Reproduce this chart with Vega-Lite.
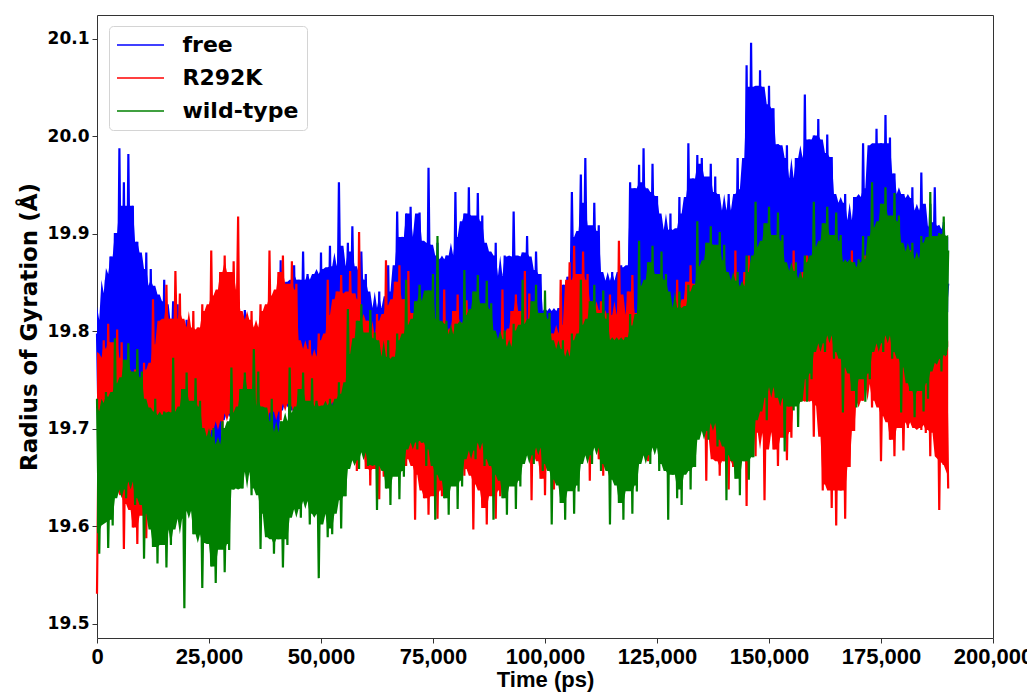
{
  "$schema": "https://vega.github.io/schema/vega-lite/v6.json",
  "width": 896,
  "height": 623,
  "autosize": {"type": "none"},
  "padding": {"left": 97, "top": 15, "right": 34, "bottom": 55},
  "background": "white",
  "config": {
    "view": {"stroke": "#333333", "strokeWidth": 1},
    "axis": {"grid": false, "domain": false, "tickColor": "#333333", "tickSize": 5, "labelColor": "#000000", "titleColor": "#000000"},
    "axisX": {"labelFont": "Liberation Sans", "labelFontSize": 22, "labelFontWeight": "bold", "labelPadding": 3, "labelFlush": false, "labelOverlap": false, "titleFont": "Liberation Sans", "titleFontSize": 22, "titleFontWeight": "bold", "titlePadding": 2},
    "axisY": {"labelFont": "DejaVu Sans", "labelFontSize": 17, "labelFontWeight": "bold", "labelPadding": 3, "titleFont": "DejaVu Sans", "titleFontSize": 23, "titleFontWeight": "bold", "titlePadding": 6}
  },
  "data": {"values": [
{"t":0,"f":19.798,"r":19.531,"w":19.731},{"t":500,"f":19.668,"r":19.767,"w":19.572},{"t":1000,"f":19.766,"r":19.673,"w":19.714},{"t":1500,"f":19.691,"r":19.791,"w":19.607},{"t":2000,"f":19.853,"r":19.639,"w":19.738},
{"t":2500,"f":19.728,"r":19.808,"w":19.578},{"t":3000,"f":19.877,"r":19.656,"w":19.706},{"t":3500,"f":19.753,"r":19.773,"w":19.601},{"t":4000,"f":19.901,"r":19.632,"w":19.793},{"t":4500,"f":19.719,"r":19.802,"w":19.638},
{"t":5000,"f":19.988,"r":19.664,"w":19.747},{"t":5500,"f":19.746,"r":19.789,"w":19.663},{"t":6000,"f":19.953,"r":19.577,"w":19.771},{"t":6500,"f":19.722,"r":19.752,"w":19.629},{"t":7000,"f":19.982,"r":19.623,"w":19.788},
{"t":7500,"f":19.754,"r":19.727,"w":19.646},{"t":8000,"f":19.929,"r":19.599,"w":19.753},{"t":8500,"f":19.667,"r":19.761,"w":19.622},{"t":9000,"f":19.892,"r":19.582,"w":19.782},{"t":9500,"f":19.713,"r":19.744,"w":19.654},
{"t":10000,"f":19.847,"r":19.617,"w":19.759},{"t":10500,"f":19.679,"r":19.768,"w":19.567},{"t":11000,"f":19.881,"r":19.588,"w":19.722},{"t":11500,"f":19.662,"r":19.736,"w":19.613},{"t":12000,"f":19.864,"r":19.611,"w":19.697},
{"t":12500,"f":19.697,"r":19.833,"w":19.579},{"t":13000,"f":19.838,"r":19.658,"w":19.731},{"t":13500,"f":19.668,"r":19.787,"w":19.562},{"t":14000,"f":19.806,"r":19.683,"w":19.714},{"t":14500,"f":19.691,"r":19.811,"w":19.597},
{"t":15000,"f":19.853,"r":19.689,"w":19.718},{"t":15500,"f":19.728,"r":19.848,"w":19.558},{"t":16000,"f":19.807,"r":19.706,"w":19.686},{"t":16500,"f":19.753,"r":19.813,"w":19.581},{"t":17000,"f":19.831,"r":19.682,"w":19.773},
{"t":17500,"f":19.709,"r":19.862,"w":19.608},{"t":18000,"f":19.828,"r":19.744,"w":19.717},{"t":18500,"f":19.726,"r":19.839,"w":19.633},{"t":19000,"f":19.793,"r":19.657,"w":19.741},{"t":19500,"f":19.702,"r":19.802,"w":19.516},
{"t":20000,"f":19.812,"r":19.703,"w":19.758},{"t":20500,"f":19.734,"r":19.787,"w":19.616},{"t":21000,"f":19.789,"r":19.679,"w":19.723},{"t":21500,"f":19.647,"r":19.821,"w":19.592},{"t":22000,"f":19.752,"r":19.662,"w":19.752},
{"t":22500,"f":19.693,"r":19.804,"w":19.624},{"t":23000,"f":19.717,"r":19.677,"w":19.729},{"t":23500,"f":19.669,"r":19.828,"w":19.537},{"t":24000,"f":19.751,"r":19.648,"w":19.692},{"t":24500,"f":19.652,"r":19.796,"w":19.583},
{"t":25000,"f":19.734,"r":19.671,"w":19.667},{"t":25500,"f":19.687,"r":19.883,"w":19.559},{"t":26000,"f":19.758,"r":19.708,"w":19.701},{"t":26500,"f":19.658,"r":19.837,"w":19.542},{"t":27000,"f":19.726,"r":19.733,"w":19.684},
{"t":27500,"f":19.681,"r":19.861,"w":19.582},{"t":28000,"f":19.813,"r":19.699,"w":19.708},{"t":28500,"f":19.718,"r":19.878,"w":19.553},{"t":29000,"f":19.767,"r":19.716,"w":19.676},{"t":29500,"f":19.743,"r":19.843,"w":19.576},
{"t":30000,"f":19.801,"r":19.692,"w":19.763},{"t":30500,"f":19.709,"r":19.872,"w":19.638},{"t":31000,"f":19.818,"r":19.744,"w":19.717},{"t":31500,"f":19.726,"r":19.918,"w":19.663},{"t":32000,"f":19.783,"r":19.657,"w":19.741},
{"t":32500,"f":19.712,"r":19.812,"w":19.639},{"t":33000,"f":19.822,"r":19.713,"w":19.758},{"t":33500,"f":19.744,"r":19.787,"w":19.656},{"t":34000,"f":19.799,"r":19.689,"w":19.723},{"t":34500,"f":19.657,"r":19.821,"w":19.632},
{"t":35000,"f":19.792,"r":19.682,"w":19.782},{"t":35500,"f":19.703,"r":19.804,"w":19.664},{"t":36000,"f":19.767,"r":19.717,"w":19.759},{"t":36500,"f":19.679,"r":19.828,"w":19.577},{"t":37000,"f":19.801,"r":19.688,"w":19.722},
{"t":37500,"f":19.662,"r":19.796,"w":19.613},{"t":38000,"f":19.794,"r":19.681,"w":19.697},{"t":38500,"f":19.697,"r":19.883,"w":19.589},{"t":39000,"f":19.818,"r":19.718,"w":19.731},{"t":39500,"f":19.668,"r":19.837,"w":19.572},
{"t":40000,"f":19.786,"r":19.743,"w":19.684},{"t":40500,"f":19.691,"r":19.861,"w":19.587},{"t":41000,"f":19.873,"r":19.709,"w":19.708},{"t":41500,"f":19.728,"r":19.878,"w":19.558},{"t":42000,"f":19.827,"r":19.726,"w":19.676},
{"t":42500,"f":19.753,"r":19.843,"w":19.581},{"t":43000,"f":19.851,"r":19.702,"w":19.763},{"t":43500,"f":19.719,"r":19.872,"w":19.618},{"t":44000,"f":19.868,"r":19.734,"w":19.717},{"t":44500,"f":19.736,"r":19.849,"w":19.643},
{"t":45000,"f":19.853,"r":19.647,"w":19.741},{"t":45500,"f":19.722,"r":19.782,"w":19.609},{"t":46000,"f":19.882,"r":19.723,"w":19.758},{"t":46500,"f":19.754,"r":19.757,"w":19.626},{"t":47000,"f":19.859,"r":19.699,"w":19.723},
{"t":47500,"f":19.677,"r":19.791,"w":19.602},{"t":48000,"f":19.842,"r":19.682,"w":19.752},{"t":48500,"f":19.723,"r":19.774,"w":19.634},{"t":49000,"f":19.817,"r":19.717,"w":19.729},{"t":49500,"f":19.699,"r":19.798,"w":19.547},
{"t":50000,"f":19.881,"r":19.668,"w":19.722},{"t":50500,"f":19.692,"r":19.766,"w":19.613},{"t":51000,"f":19.864,"r":19.691,"w":19.697},{"t":51500,"f":19.727,"r":19.853,"w":19.589},{"t":52000,"f":19.888,"r":19.728,"w":19.731},
{"t":52500,"f":19.708,"r":19.817,"w":19.592},{"t":53000,"f":19.866,"r":19.753,"w":19.724},{"t":53500,"f":19.731,"r":19.841,"w":19.627},{"t":54000,"f":19.953,"r":19.719,"w":19.748},{"t":54500,"f":19.768,"r":19.858,"w":19.598},
{"t":55000,"f":19.867,"r":19.736,"w":19.736},{"t":55500,"f":19.793,"r":19.833,"w":19.631},{"t":56000,"f":19.891,"r":19.712,"w":19.823},{"t":56500,"f":19.759,"r":19.862,"w":19.668},{"t":57000,"f":19.908,"r":19.744,"w":19.777},
{"t":57500,"f":19.776,"r":19.839,"w":19.693},{"t":58000,"f":19.853,"r":19.657,"w":19.811},{"t":58500,"f":19.752,"r":19.902,"w":19.659},{"t":59000,"f":19.882,"r":19.703,"w":19.828},{"t":59500,"f":19.784,"r":19.777,"w":19.676},
{"t":60000,"f":19.859,"r":19.659,"w":19.793},{"t":60500,"f":19.697,"r":19.811,"w":19.662},{"t":61000,"f":19.822,"r":19.642,"w":19.822},{"t":61500,"f":19.743,"r":19.794,"w":19.694},{"t":62000,"f":19.797,"r":19.677,"w":19.799},
{"t":62500,"f":19.719,"r":19.818,"w":19.617},{"t":63000,"f":19.841,"r":19.628,"w":19.772},{"t":63500,"f":19.702,"r":19.786,"w":19.663},{"t":64000,"f":19.824,"r":19.651,"w":19.747},{"t":64500,"f":19.737,"r":19.873,"w":19.639},
{"t":65000,"f":19.868,"r":19.678,"w":19.791},{"t":65500,"f":19.718,"r":19.827,"w":19.622},{"t":66000,"f":19.836,"r":19.703,"w":19.774},{"t":66500,"f":19.741,"r":19.851,"w":19.657},{"t":67000,"f":19.923,"r":19.669,"w":19.798},
{"t":67500,"f":19.778,"r":19.868,"w":19.628},{"t":68000,"f":19.897,"r":19.686,"w":19.766},{"t":68500,"f":19.803,"r":19.833,"w":19.651},{"t":69000,"f":19.921,"r":19.662,"w":19.853},{"t":69500,"f":19.769,"r":19.862,"w":19.688},
{"t":70000,"f":19.928,"r":19.694,"w":19.807},{"t":70500,"f":19.786,"r":19.819,"w":19.713},{"t":71000,"f":19.893,"r":19.607,"w":19.831},{"t":71500,"f":19.762,"r":19.782,"w":19.679},{"t":72000,"f":19.922,"r":19.653,"w":19.848},
{"t":72500,"f":19.794,"r":19.747,"w":19.686},{"t":73000,"f":19.889,"r":19.629,"w":19.813},{"t":73500,"f":19.707,"r":19.781,"w":19.662},{"t":74000,"f":19.968,"r":19.612,"w":19.842},{"t":74500,"f":19.753,"r":19.764,"w":19.694},
{"t":75000,"f":19.857,"r":19.637,"w":19.859},{"t":75500,"f":19.729,"r":19.788,"w":19.607},{"t":76000,"f":19.891,"r":19.608,"w":19.898},{"t":76500,"f":19.712,"r":19.756,"w":19.653},{"t":77000,"f":19.874,"r":19.631,"w":19.797},
{"t":77500,"f":19.747,"r":19.843,"w":19.629},{"t":78000,"f":19.878,"r":19.668,"w":19.811},{"t":78500,"f":19.718,"r":19.797,"w":19.612},{"t":79000,"f":19.846,"r":19.693,"w":19.794},{"t":79500,"f":19.741,"r":19.821,"w":19.647},
{"t":80000,"f":19.943,"r":19.659,"w":19.808},{"t":80500,"f":19.778,"r":19.838,"w":19.618},{"t":81000,"f":19.897,"r":19.676,"w":19.776},{"t":81500,"f":19.803,"r":19.803,"w":19.641},{"t":82000,"f":19.921,"r":19.652,"w":19.863},
{"t":82500,"f":19.769,"r":19.832,"w":19.678},{"t":83000,"f":19.948,"r":19.684,"w":19.817},{"t":83500,"f":19.786,"r":19.809,"w":19.703},{"t":84000,"f":19.913,"r":19.597,"w":19.841},{"t":84500,"f":19.762,"r":19.772,"w":19.669},
{"t":85000,"f":19.942,"r":19.643,"w":19.858},{"t":85500,"f":19.794,"r":19.747,"w":19.686},{"t":86000,"f":19.919,"r":19.619,"w":19.823},{"t":86500,"f":19.707,"r":19.781,"w":19.662},{"t":87000,"f":19.882,"r":19.602,"w":19.852},
{"t":87500,"f":19.753,"r":19.764,"w":19.694},{"t":88000,"f":19.857,"r":19.637,"w":19.829},{"t":88500,"f":19.729,"r":19.788,"w":19.607},{"t":89000,"f":19.891,"r":19.608,"w":19.792},{"t":89500,"f":19.712,"r":19.756,"w":19.653},
{"t":90000,"f":19.854,"r":19.631,"w":19.767},{"t":90500,"f":19.747,"r":19.843,"w":19.629},{"t":91000,"f":19.878,"r":19.668,"w":19.801},{"t":91500,"f":19.718,"r":19.797,"w":19.612},{"t":92000,"f":19.846,"r":19.693,"w":19.784},
{"t":92500,"f":19.741,"r":19.821,"w":19.647},{"t":93000,"f":19.923,"r":19.669,"w":19.808},{"t":93500,"f":19.778,"r":19.838,"w":19.618},{"t":94000,"f":19.877,"r":19.686,"w":19.776},{"t":94500,"f":19.803,"r":19.803,"w":19.641},
{"t":95000,"f":19.881,"r":19.682,"w":19.853},{"t":95500,"f":19.769,"r":19.862,"w":19.673},{"t":96000,"f":19.898,"r":19.714,"w":19.807},{"t":96500,"f":19.786,"r":19.839,"w":19.698},{"t":97000,"f":19.863,"r":19.627,"w":19.831},
{"t":97500,"f":19.762,"r":19.802,"w":19.664},{"t":98000,"f":19.882,"r":19.673,"w":19.848},{"t":98500,"f":19.794,"r":19.777,"w":19.681},{"t":99000,"f":19.859,"r":19.649,"w":19.813},{"t":99500,"f":19.707,"r":19.811,"w":19.657},
{"t":100000,"f":19.812,"r":19.632,"w":19.842},{"t":100500,"f":19.763,"r":19.774,"w":19.689},{"t":101000,"f":19.787,"r":19.667,"w":19.819},{"t":101500,"f":19.739,"r":19.798,"w":19.602},{"t":102000,"f":19.821,"r":19.638,"w":19.782},
{"t":102500,"f":19.722,"r":19.766,"w":19.648},{"t":103000,"f":19.824,"r":19.671,"w":19.757},{"t":103500,"f":19.757,"r":19.853,"w":19.624},{"t":104000,"f":19.848,"r":19.708,"w":19.791},{"t":104500,"f":19.728,"r":19.807,"w":19.607},
{"t":105000,"f":19.856,"r":19.743,"w":19.774},{"t":105500,"f":19.751,"r":19.871,"w":19.642},{"t":106000,"f":19.943,"r":19.709,"w":19.798},{"t":106500,"f":19.788,"r":19.888,"w":19.613},{"t":107000,"f":19.897,"r":19.726,"w":19.766},
{"t":107500,"f":19.813,"r":19.853,"w":19.636},{"t":108000,"f":19.961,"r":19.702,"w":19.853},{"t":108500,"f":19.779,"r":19.882,"w":19.673},{"t":109000,"f":19.978,"r":19.734,"w":19.807},{"t":109500,"f":19.796,"r":19.859,"w":19.698},
{"t":110000,"f":19.903,"r":19.647,"w":19.831},{"t":110500,"f":19.772,"r":19.822,"w":19.664},{"t":111000,"f":19.932,"r":19.693,"w":19.848},{"t":111500,"f":19.804,"r":19.797,"w":19.681},{"t":112000,"f":19.909,"r":19.669,"w":19.813},
{"t":112500,"f":19.717,"r":19.831,"w":19.657},{"t":113000,"f":19.852,"r":19.652,"w":19.842},{"t":113500,"f":19.763,"r":19.814,"w":19.689},{"t":114000,"f":19.827,"r":19.687,"w":19.819},{"t":114500,"f":19.739,"r":19.838,"w":19.602},
{"t":115000,"f":19.861,"r":19.658,"w":19.782},{"t":115500,"f":19.722,"r":19.806,"w":19.648},{"t":116000,"f":19.844,"r":19.681,"w":19.757},{"t":116500,"f":19.757,"r":19.893,"w":19.624},{"t":117000,"f":19.868,"r":19.718,"w":19.791},
{"t":117500,"f":19.728,"r":19.817,"w":19.607},{"t":118000,"f":19.866,"r":19.753,"w":19.794},{"t":118500,"f":19.751,"r":19.841,"w":19.642},{"t":119000,"f":19.953,"r":19.719,"w":19.818},{"t":119500,"f":19.788,"r":19.858,"w":19.613},
{"t":120000,"f":19.947,"r":19.746,"w":19.806},{"t":120500,"f":19.813,"r":19.813,"w":19.636},{"t":121000,"f":19.971,"r":19.722,"w":19.893},{"t":121500,"f":19.779,"r":19.842,"w":19.673},{"t":122000,"f":19.988,"r":19.754,"w":19.847},
{"t":122500,"f":19.806,"r":19.819,"w":19.698},{"t":123000,"f":19.943,"r":19.667,"w":19.871},{"t":123500,"f":19.782,"r":19.782,"w":19.664},{"t":124000,"f":19.972,"r":19.713,"w":19.888},{"t":124500,"f":19.814,"r":19.757,"w":19.681},
{"t":125000,"f":19.939,"r":19.689,"w":19.853},{"t":125500,"f":19.727,"r":19.791,"w":19.657},{"t":126000,"f":19.902,"r":19.672,"w":19.882},{"t":126500,"f":19.773,"r":19.774,"w":19.689},{"t":127000,"f":19.877,"r":19.707,"w":19.859},
{"t":127500,"f":19.749,"r":19.798,"w":19.607},{"t":128000,"f":19.921,"r":19.678,"w":19.822},{"t":128500,"f":19.732,"r":19.766,"w":19.653},{"t":129000,"f":19.904,"r":19.701,"w":19.797},{"t":129500,"f":19.767,"r":19.853,"w":19.629},
{"t":130000,"f":19.938,"r":19.738,"w":19.841},{"t":130500,"f":19.738,"r":19.827,"w":19.622},{"t":131000,"f":19.906,"r":19.763,"w":19.824},{"t":131500,"f":19.761,"r":19.851,"w":19.657},{"t":132000,"f":19.993,"r":19.729,"w":19.848},
{"t":132500,"f":19.808,"r":19.868,"w":19.638},{"t":133000,"f":19.957,"r":19.736,"w":19.826},{"t":133500,"f":19.833,"r":19.833,"w":19.661},{"t":134000,"f":19.981,"r":19.712,"w":19.913},{"t":134500,"f":19.799,"r":19.862,"w":19.698},
{"t":135000,"f":19.978,"r":19.734,"w":19.867},{"t":135500,"f":19.816,"r":19.849,"w":19.723},{"t":136000,"f":19.943,"r":19.647,"w":19.891},{"t":136500,"f":19.792,"r":19.812,"w":19.689},{"t":137000,"f":19.972,"r":19.693,"w":19.908},
{"t":137500,"f":19.824,"r":19.787,"w":19.706},{"t":138000,"f":19.959,"r":19.669,"w":19.873},{"t":138500,"f":19.737,"r":19.821,"w":19.682},{"t":139000,"f":19.922,"r":19.652,"w":19.902},{"t":139500,"f":19.783,"r":19.804,"w":19.714},
{"t":140000,"f":19.907,"r":19.667,"w":19.889},{"t":140500,"f":19.769,"r":19.828,"w":19.627},{"t":141000,"f":19.941,"r":19.638,"w":19.852},{"t":141500,"f":19.752,"r":19.796,"w":19.673},{"t":142000,"f":19.924,"r":19.661,"w":19.827},
{"t":142500,"f":19.787,"r":19.883,"w":19.649},{"t":143000,"f":19.978,"r":19.688,"w":19.861},{"t":143500,"f":19.758,"r":19.837,"w":19.632},{"t":144000,"f":19.946,"r":19.713,"w":19.844},{"t":144500,"f":19.781,"r":19.861,"w":19.667},
{"t":145000,"f":20.073,"r":19.621,"w":19.878},{"t":145500,"f":19.818,"r":19.878,"w":19.648},{"t":146000,"f":20.096,"r":19.696,"w":19.846},{"t":146500,"f":19.843,"r":19.843,"w":19.671},{"t":147000,"f":20.051,"r":19.672,"w":19.933},
{"t":147500,"f":19.809,"r":19.872,"w":19.718},{"t":148000,"f":20.068,"r":19.714,"w":19.887},{"t":148500,"f":19.826,"r":19.849,"w":19.743},{"t":149000,"f":20.033,"r":19.627,"w":19.911},{"t":149500,"f":19.802,"r":19.812,"w":19.709},
{"t":150000,"f":20.052,"r":19.703,"w":19.928},{"t":150500,"f":19.844,"r":19.787,"w":19.756},{"t":151000,"f":20.029,"r":19.679,"w":19.893},{"t":151500,"f":19.757,"r":19.821,"w":19.732},{"t":152000,"f":19.992,"r":19.662,"w":19.922},
{"t":152500,"f":19.803,"r":19.804,"w":19.764},{"t":153000,"f":19.957,"r":19.697,"w":19.899},{"t":153500,"f":19.779,"r":19.828,"w":19.677},{"t":154000,"f":19.991,"r":19.668,"w":19.862},{"t":154500,"f":19.762,"r":19.796,"w":19.723},
{"t":155000,"f":19.954,"r":19.691,"w":19.837},{"t":155500,"f":19.797,"r":19.883,"w":19.719},{"t":156000,"f":19.978,"r":19.728,"w":19.871},{"t":156500,"f":19.768,"r":19.837,"w":19.702},{"t":157000,"f":19.946,"r":19.753,"w":19.854},
{"t":157500,"f":19.791,"r":19.861,"w":19.757},{"t":158000,"f":20.043,"r":19.729,"w":19.878},{"t":158500,"f":19.828,"r":19.878,"w":19.728},{"t":159000,"f":19.997,"r":19.746,"w":19.846},{"t":159500,"f":19.853,"r":19.843,"w":19.751},
{"t":160000,"f":20.001,"r":19.692,"w":19.933},{"t":160500,"f":19.819,"r":19.872,"w":19.788},{"t":161000,"f":20.018,"r":19.724,"w":19.887},{"t":161500,"f":19.836,"r":19.849,"w":19.813},{"t":162000,"f":19.983,"r":19.637,"w":19.911},
{"t":162500,"f":19.812,"r":19.812,"w":19.779},{"t":163000,"f":20.002,"r":19.643,"w":19.928},{"t":163500,"f":19.844,"r":19.787,"w":19.796},{"t":164000,"f":19.979,"r":19.619,"w":19.893},{"t":164500,"f":19.757,"r":19.821,"w":19.772},
{"t":165000,"f":19.932,"r":19.601,"w":19.922},{"t":165500,"f":19.803,"r":19.804,"w":19.804},{"t":166000,"f":19.907,"r":19.637,"w":19.899},{"t":166500,"f":19.779,"r":19.828,"w":19.717},{"t":167000,"f":19.941,"r":19.608,"w":19.862},
{"t":167500,"f":19.762,"r":19.796,"w":19.763},{"t":168000,"f":19.914,"r":19.661,"w":19.837},{"t":168500,"f":19.797,"r":19.883,"w":19.739},{"t":169000,"f":19.938,"r":19.698,"w":19.871},{"t":169500,"f":19.768,"r":19.837,"w":19.722},
{"t":170000,"f":19.906,"r":19.763,"w":19.874},{"t":170500,"f":19.791,"r":19.861,"w":19.757},{"t":171000,"f":19.993,"r":19.729,"w":19.898},{"t":171500,"f":19.828,"r":19.878,"w":19.728},{"t":172000,"f":19.947,"r":19.746,"w":19.866},
{"t":172500,"f":19.853,"r":19.843,"w":19.751},{"t":173000,"f":19.991,"r":19.722,"w":19.953},{"t":173500,"f":19.819,"r":19.872,"w":19.788},{"t":174000,"f":20.008,"r":19.754,"w":19.907},{"t":174500,"f":19.836,"r":19.849,"w":19.813},
{"t":175000,"f":19.993,"r":19.667,"w":19.931},{"t":175500,"f":19.812,"r":19.812,"w":19.779},{"t":176000,"f":20.022,"r":19.713,"w":19.948},{"t":176500,"f":19.844,"r":19.787,"w":19.796},{"t":177000,"f":19.999,"r":19.689,"w":19.913},
{"t":177500,"f":19.757,"r":19.821,"w":19.772},{"t":178000,"f":19.962,"r":19.672,"w":19.942},{"t":178500,"f":19.803,"r":19.804,"w":19.804},{"t":179000,"f":19.937,"r":19.707,"w":19.919},{"t":179500,"f":19.779,"r":19.828,"w":19.717},
{"t":180000,"f":19.941,"r":19.678,"w":19.882},{"t":180500,"f":19.762,"r":19.796,"w":19.763},{"t":181000,"f":19.924,"r":19.701,"w":19.857},{"t":181500,"f":19.797,"r":19.883,"w":19.739},{"t":182000,"f":19.948,"r":19.738,"w":19.891},
{"t":182500,"f":19.758,"r":19.837,"w":19.712},{"t":183000,"f":19.876,"r":19.733,"w":19.874},{"t":183500,"f":19.781,"r":19.861,"w":19.747},{"t":184000,"f":19.963,"r":19.699,"w":19.898},{"t":184500,"f":19.818,"r":19.878,"w":19.718},
{"t":185000,"f":19.907,"r":19.696,"w":19.856},{"t":185500,"f":19.843,"r":19.843,"w":19.731},{"t":186000,"f":19.931,"r":19.672,"w":19.943},{"t":186500,"f":19.809,"r":19.872,"w":19.768},{"t":187000,"f":19.948,"r":19.704,"w":19.897},
{"t":187500,"f":19.816,"r":19.839,"w":19.793},{"t":188000,"f":19.883,"r":19.617,"w":19.901},{"t":188500,"f":19.792,"r":19.802,"w":19.759},{"t":189000,"f":19.912,"r":19.663,"w":19.918},{"t":189500,"f":19.824,"r":19.777,"w":19.776},
{"t":190000,"f":19.849,"r":19.639,"w":19.883}
  ]},
  "transform": [
    {"fold": ["f", "r", "w"], "as": ["series", "rg"]},
    {"window": [{"op": "q1", "field": "rg", "as": "core_lo"}, {"op": "q3", "field": "rg", "as": "core_hi"}], "frame": [-6, 6], "groupby": ["series"], "sort": [{"field": "t", "order": "ascending"}]}
  ],
  "encoding": {
    "x": {
      "field": "t",
      "type": "quantitative",
      "title": "Time (ps)",
      "scale": {"domain": [0, 200000], "nice": false},
      "axis": {"values": [0, 25000, 50000, 75000, 100000, 125000, 150000, 175000, 200000], "format": ",d"}
    }
  },
  "layer": [
    {
      "transform": [{"filter": "datum.series === 'f'"}],
      "mark": {"type": "area", "color": "#0000ff", "opacity": 1, "interpolate": "linear"},
      "encoding": {
        "y": {"field": "core_hi", "type": "quantitative", "title": "Radius of Gyration (Å)", "scale": {"domain": [19.4856, 20.1246], "nice": false, "zero": false}, "axis": {"values": [19.5, 19.6, 19.7, 19.8, 19.9, 20.0, 20.1], "format": ".1f"}},
        "y2": {"field": "core_lo"}
      }
    },
    {
      "transform": [{"filter": "datum.series === 'f'"}],
      "mark": {"type": "line", "strokeWidth": 2.2, "interpolate": "linear"},
      "encoding": {
        "y": {"field": "rg", "type": "quantitative", "title": "Radius of Gyration (Å)", "scale": {"domain": [19.4856, 20.1246], "nice": false, "zero": false}, "axis": {"values": [19.5, 19.6, 19.7, 19.8, 19.9, 20.0, 20.1], "format": ".1f"}},
        "color": {
          "field": "series", "type": "nominal",
          "scale": {"domain": ["f", "r", "w"], "range": ["#0000ff", "#ff0000", "#008000"]},
          "legend": {"orient": "none", "legendX": 12, "legendY": 11, "title": null, "labelExpr": "datum.value == 'f' ? 'free' : datum.value == 'r' ? 'R292K' : 'wild-type'", "symbolType": "M-2.35,0H2.35", "symbolSize": 400, "symbolStrokeWidth": 1.5, "symbolOffset": 12.5, "labelOffset": 31, "labelFont": "DejaVu Sans", "labelFontSize": 22, "labelFontWeight": "bold", "labelColor": "#000000", "rowPadding": 11, "padding": 8, "fillColor": "#ffffff", "strokeColor": "#d4d4d4", "cornerRadius": 4}
        }
      }
    },
    {
      "transform": [{"filter": "datum.series === 'r'"}],
      "mark": {"type": "area", "color": "#ff0000", "opacity": 1, "interpolate": "linear"},
      "encoding": {
        "y": {"field": "core_hi", "type": "quantitative", "title": "Radius of Gyration (Å)", "scale": {"domain": [19.4856, 20.1246], "nice": false, "zero": false}, "axis": {"values": [19.5, 19.6, 19.7, 19.8, 19.9, 20.0, 20.1], "format": ".1f"}},
        "y2": {"field": "core_lo"}
      }
    },
    {
      "transform": [{"filter": "datum.series === 'r'"}],
      "mark": {"type": "line", "strokeWidth": 2.2, "interpolate": "linear"},
      "encoding": {
        "y": {"field": "rg", "type": "quantitative", "title": "Radius of Gyration (Å)", "scale": {"domain": [19.4856, 20.1246], "nice": false, "zero": false}, "axis": {"values": [19.5, 19.6, 19.7, 19.8, 19.9, 20.0, 20.1], "format": ".1f"}},
        "color": {
          "field": "series", "type": "nominal",
          "scale": {"domain": ["f", "r", "w"], "range": ["#0000ff", "#ff0000", "#008000"]},
          "legend": {"orient": "none", "legendX": 12, "legendY": 11, "title": null, "labelExpr": "datum.value == 'f' ? 'free' : datum.value == 'r' ? 'R292K' : 'wild-type'", "symbolType": "M-2.35,0H2.35", "symbolSize": 400, "symbolStrokeWidth": 1.5, "symbolOffset": 12.5, "labelOffset": 31, "labelFont": "DejaVu Sans", "labelFontSize": 22, "labelFontWeight": "bold", "labelColor": "#000000", "rowPadding": 11, "padding": 8, "fillColor": "#ffffff", "strokeColor": "#d4d4d4", "cornerRadius": 4}
        }
      }
    },
    {
      "transform": [{"filter": "datum.series === 'w'"}],
      "mark": {"type": "area", "color": "#008000", "opacity": 1, "interpolate": "linear"},
      "encoding": {
        "y": {"field": "core_hi", "type": "quantitative", "title": "Radius of Gyration (Å)", "scale": {"domain": [19.4856, 20.1246], "nice": false, "zero": false}, "axis": {"values": [19.5, 19.6, 19.7, 19.8, 19.9, 20.0, 20.1], "format": ".1f"}},
        "y2": {"field": "core_lo"}
      }
    },
    {
      "transform": [{"filter": "datum.series === 'w'"}],
      "mark": {"type": "line", "strokeWidth": 2.2, "interpolate": "linear"},
      "encoding": {
        "y": {"field": "rg", "type": "quantitative", "title": "Radius of Gyration (Å)", "scale": {"domain": [19.4856, 20.1246], "nice": false, "zero": false}, "axis": {"values": [19.5, 19.6, 19.7, 19.8, 19.9, 20.0, 20.1], "format": ".1f"}},
        "color": {
          "field": "series", "type": "nominal",
          "scale": {"domain": ["f", "r", "w"], "range": ["#0000ff", "#ff0000", "#008000"]},
          "legend": {"orient": "none", "legendX": 12, "legendY": 11, "title": null, "labelExpr": "datum.value == 'f' ? 'free' : datum.value == 'r' ? 'R292K' : 'wild-type'", "symbolType": "M-2.35,0H2.35", "symbolSize": 400, "symbolStrokeWidth": 1.5, "symbolOffset": 12.5, "labelOffset": 31, "labelFont": "DejaVu Sans", "labelFontSize": 22, "labelFontWeight": "bold", "labelColor": "#000000", "rowPadding": 11, "padding": 8, "fillColor": "#ffffff", "strokeColor": "#d4d4d4", "cornerRadius": 4}
        }
      }
    }
  ]
}
